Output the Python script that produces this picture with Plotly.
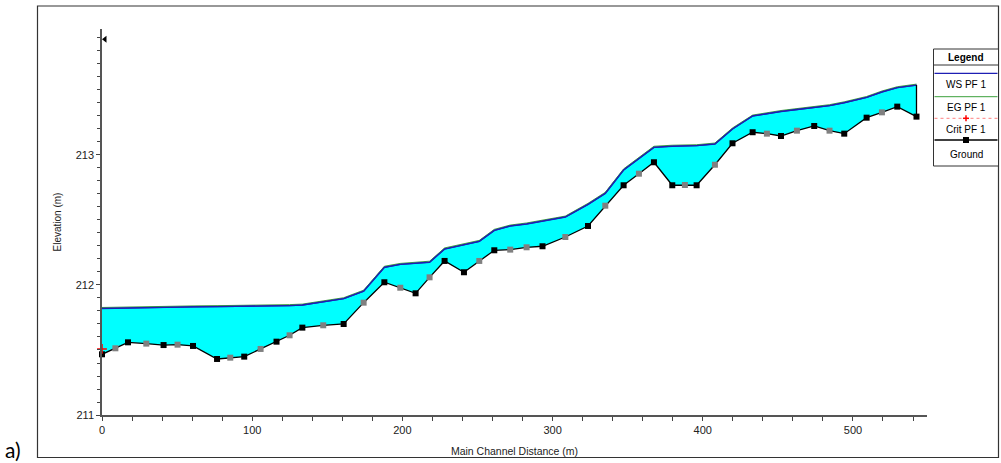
import plotly.graph_objects as go

# ---------------- data ----------------
dist = [0, 8.9, 17.3, 29.5, 41, 50.3, 60.6, 76.6, 85.4, 94.7, 105.6, 116.2, 124.9, 133.4,
        147.3, 160.9, 174.2, 188, 198.6, 208.8, 218.1, 228.1, 241, 251.2, 261.2, 271.8,
        282.7, 293.3, 308.5, 323.6, 335.1, 347.3, 357.5, 367.5, 379.7, 388.1, 395.9,
        408.1, 419.8, 433.2, 442.7, 452.1, 462.7, 474.2, 484.4, 494.2, 509.1, 519.3,
        529.5, 542.3]

ground = [211.467, 211.513, 211.559, 211.549, 211.538, 211.541, 211.531, 211.431, 211.441,
          211.449, 211.508, 211.564, 211.613, 211.672, 211.690, 211.700, 211.864, 212.021,
          211.979, 211.936, 212.059, 212.185, 212.098, 212.185, 212.267, 212.272, 212.290,
          212.298, 212.369, 212.454, 212.610, 212.767, 212.856, 212.944, 212.767, 212.769,
          212.767, 212.925, 213.090, 213.175, 213.164, 213.146, 213.187, 213.223, 213.187,
          213.164, 213.287, 213.328, 213.372, 213.295]

# "B" = surveyed section (black marker), "G" = interpolated section (grey marker)
section_type = ["B", "G", "B", "G", "B", "G", "B", "B", "G", "B", "G", "B", "G", "B",
                "G", "B", "G", "B", "G", "B", "G", "B", "B", "G", "B", "G", "G", "B",
                "G", "B", "G", "B", "G", "B", "B", "G", "B", "G", "B", "B", "G", "B",
                "G", "B", "G", "B", "B", "G", "B", "B"]

ws = [211.820, 211.822, 211.828, 211.830, 211.830, 211.831, 211.832, 211.834, 211.835,
      211.835, 211.836, 211.840, 211.842, 211.846, 211.870, 211.895, 211.952, 212.136,
      212.159, 212.165, 212.175, 212.277, 212.310, 212.336, 212.420, 212.454, 212.470,
      212.490, 212.523, 212.620, 212.705, 212.885, 212.970, 213.059, 213.068, 213.070,
      213.072, 213.085, 213.200, 213.300, 213.320, 213.335, 213.350, 213.365, 213.380,
      213.402, 213.443, 213.485, 213.518, 213.538]

eg = [211.827, 211.829, 211.835, 211.837, 211.837, 211.838, 211.839, 211.841, 211.842,
      211.842, 211.843, 211.847, 211.849, 211.853, 211.877, 211.902, 211.960, 212.144,
      212.166, 212.172, 212.183, 212.285, 212.317, 212.343, 212.428, 212.461, 212.477,
      212.497, 212.530, 212.628, 212.713, 212.893, 212.978, 213.067, 213.075, 213.077,
      213.079, 213.092, 213.208, 213.307, 213.327, 213.342, 213.357, 213.372, 213.387,
      213.409, 213.450, 213.492, 213.525, 213.545]

crit_x = [0]
crit_y = [211.508]

top_marker_x = [2]
top_marker_y = [213.89]

x_range = [0, 549.3]
y_range = [211, 213.969]

# ---------------- figure ----------------
W, H = 1001, 463
L, R, T, B = 102, 74, 29, 48
PW, PH = W - L - R, H - T - B


def px(xp):
    return (xp - L) / PW


def py(yp):
    return (H - B - yp) / PH


colors = ["black" if s == "B" else "#808080" for s in section_type]
ws_color = "#1E1EB4"

fig = go.Figure()

# base of the fill (ground, invisible)
fig.add_trace(go.Scatter(x=dist, y=ground, mode="lines", line=dict(width=0, color="black"),
                         showlegend=False, hoverinfo="skip"))
# water surface with cyan fill down to ground
fig.add_trace(go.Scatter(x=dist, y=ws, mode="lines", fill="tonexty", fillcolor="#00FFFF",
                         line=dict(color=ws_color, width=1.5), name="WS PF 1", showlegend=False))
# energy grade line
fig.add_trace(go.Scatter(x=dist, y=eg, mode="lines", line=dict(color="#3CA03C", width=1),
                         name="EG PF 1", showlegend=False))
# water surface redrawn on top of EG
fig.add_trace(go.Scatter(x=dist, y=ws, mode="lines", line=dict(color=ws_color, width=1.3),
                         showlegend=False, hoverinfo="skip"))
# right end vertical line of the water body
fig.add_trace(go.Scatter(x=[dist[-1], dist[-1]], y=[ground[-1], ws[-1]], mode="lines",
                         line=dict(color="black", width=1.3), showlegend=False, hoverinfo="skip"))
# ground line with section markers
fig.add_trace(go.Scatter(x=dist, y=ground, mode="lines+markers",
                         line=dict(color="black", width=1.3),
                         marker=dict(symbol="square", size=6, color=colors, line=dict(width=0)),
                         name="Ground", showlegend=False, cliponaxis=False))
# critical depth
fig.add_trace(go.Scatter(x=crit_x, y=crit_y, mode="markers",
                         marker=dict(symbol="cross-thin", size=7, line=dict(color="red", width=1.5)),
                         name="Crit PF 1", showlegend=False, cliponaxis=False))
# small marker at the top of the profile
fig.add_trace(go.Scatter(x=top_marker_x, y=top_marker_y, mode="markers",
                         marker=dict(symbol="triangle-left", size=6, color="black"),
                         showlegend=False, cliponaxis=False, hoverinfo="skip"))

font_main = "Arial, Liberation Sans, sans-serif"

shapes = []
annotations = []

# outer frame
shapes.append(dict(type="rect", xref="paper", yref="paper",
                   x0=px(37.5), x1=px(998.5), y0=py(457.5), y1=py(6),
                   line=dict(color="#333333", width=1.2), fillcolor="rgba(0,0,0,0)", layer="below"))

# custom legend
lx0, lx1 = 933.5, 998.5
lcx = (lx0 + lx1) / 2
shapes.append(dict(type="rect", xref="paper", yref="paper",
                   x0=px(lx0), x1=px(lx1), y0=py(166), y1=py(49),
                   line=dict(color="#333333", width=1), fillcolor="white"))
shapes.append(dict(type="line", xref="paper", yref="paper",
                   x0=px(lx0), x1=px(lx1), y0=py(65), y1=py(65),
                   line=dict(color="#333333", width=1)))
shapes.append(dict(type="line", xref="paper", yref="paper",
                   x0=px(lx0 + 1), x1=px(lx1 - 1), y0=py(73.3), y1=py(73.3),
                   line=dict(color=ws_color, width=1.3)))
shapes.append(dict(type="line", xref="paper", yref="paper",
                   x0=px(lx0 + 1), x1=px(lx1 - 1), y0=py(96.7), y1=py(96.7),
                   line=dict(color="#3CA03C", width=1)))
shapes.append(dict(type="line", xref="paper", yref="paper",
                   x0=px(lx0 + 1), x1=px(lx1 - 1), y0=py(118.3), y1=py(118.3),
                   line=dict(color="#FF8080", width=1, dash="dot")))
shapes.append(dict(type="line", xref="paper", yref="paper",
                   x0=px(lcx - 3), x1=px(lcx + 3), y0=py(118.3), y1=py(118.3),
                   line=dict(color="red", width=1.5)))
shapes.append(dict(type="line", xref="paper", yref="paper",
                   x0=px(lcx), x1=px(lcx), y0=py(115.3), y1=py(121.3),
                   line=dict(color="red", width=1.5)))
shapes.append(dict(type="line", xref="paper", yref="paper",
                   x0=px(lx0 + 1), x1=px(lx1 - 1), y0=py(140), y1=py(140),
                   line=dict(color="black", width=1.3)))
shapes.append(dict(type="rect", xref="paper", yref="paper",
                   x0=px(lcx - 3), x1=px(lcx + 3), y0=py(143), y1=py(137),
                   line=dict(width=0), fillcolor="black"))

legend_texts = [("<b>Legend</b>", 57), ("WS PF 1", 85), ("EG PF 1", 108), ("Crit PF 1", 129.5),
                ("Ground", 154.5)]
for txt, yy in legend_texts:
    annotations.append(dict(text=txt, xref="paper", yref="paper", x=px(lcx), y=py(yy),
                            xanchor="center", yanchor="middle", showarrow=False,
                            font=dict(family=font_main, size=10, color="black")))

# panel label
annotations.append(dict(text="a)", xref="paper", yref="paper", x=px(3), y=py(449),
                        xanchor="left", yanchor="middle", showarrow=False,
                        font=dict(family="Lato, Carlito, sans-serif", size=21, color="black")))

fig.update_layout(
    width=W, height=H,
    margin=dict(l=L, r=R, t=T, b=B, autoexpand=False),
    paper_bgcolor="white", plot_bgcolor="white",
    showlegend=False,
    shapes=shapes, annotations=annotations,
    font=dict(family=font_main, size=11, color="#222222"),
)

fig.update_xaxes(
    range=x_range, showgrid=False, zeroline=False,
    showline=True, linecolor="#555555", linewidth=1.5,
    ticks="outside", ticklen=4, tickcolor="#444444", tickwidth=1,
    tickmode="linear", tick0=0, dtick=100,
    minor=dict(ticks="outside", ticklen=4, tickcolor="#444444", dtick=20, tick0=0, showgrid=False),
    tickfont=dict(size=11, family=font_main, color="#222222"),
    title=dict(text="Main Channel Distance (m)", font=dict(size=10.5, family=font_main, color="#222222"),
               standoff=13),
)
fig.update_yaxes(
    range=y_range, showgrid=False, zeroline=False,
    showline=True, linecolor="#555555", linewidth=1.5,
    ticks="outside", ticklen=4, tickcolor="#444444", tickwidth=1,
    tickmode="linear", tick0=211, dtick=1,
    minor=dict(ticks="outside", ticklen=3, tickcolor="#444444", dtick=0.1, tick0=211, showgrid=False),
    tickfont=dict(size=11, family=font_main, color="#222222"),
    title=dict(text="Elevation (m)", font=dict(size=10, family=font_main, color="#222222"),
               standoff=12),
)

fig.write_html("out.html", config={"displayModeBar": False},
               post_script="document.body.style.margin='0';document.body.style.overflow='hidden';")
